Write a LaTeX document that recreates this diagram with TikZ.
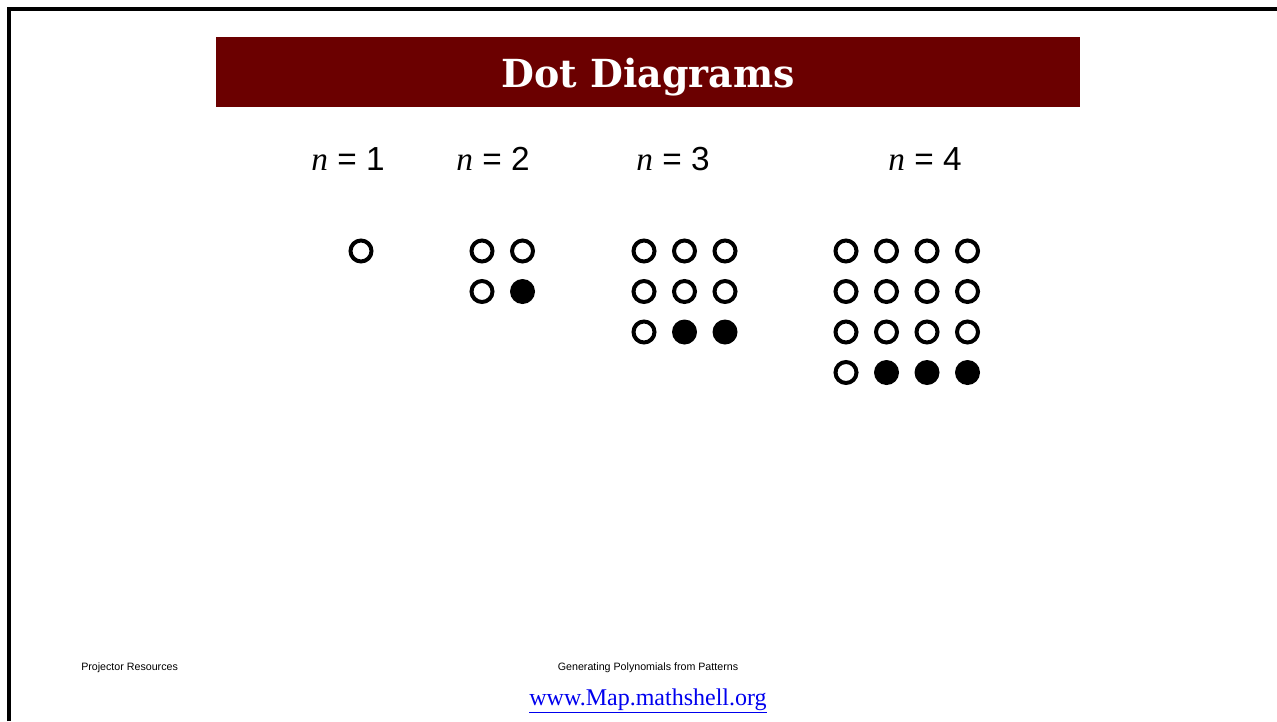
\documentclass[tikz,border=0pt]{standalone}
\usepackage{fontspec}
\setmainfont{Liberation Sans}
\newfontfamily\slabfont{DejaVu Serif}
\newfontfamily\romanfont{Liberation Serif}
\usetikzlibrary{positioning}
\definecolor{banner}{HTML}{6B0000}
\definecolor{link}{HTML}{0000EE}
\tikzset{
  dotopen/.style={circle, draw, line width=3pt, minimum size=15.75pt, inner sep=0pt},
  dotfull/.style={circle, fill, minimum size=18.75pt, inner sep=0pt},
  nlabel/.style={anchor=base, font=\fontsize{25}{30}\selectfont},
  footnote/.style={anchor=base, inner sep=0pt, font=\fontsize{8}{10}\selectfont},
}

\begin{document}
\begin{tikzpicture}[x=0.75pt, y=-0.75pt]
\useasboundingbox (0,0) rectangle (1277,721);
\draw[line width=2.4pt] (9,721) -- (9,9) -- (1277,9);
% title banner
\node[fill=banner, minimum width=648pt, minimum height=52.5pt, inner sep=0pt] (banner) at (648,72) {};
\node[anchor=base, xscale=.98, text=white, font=\slabfont\bfseries\fontsize{29}{34}\selectfont] (title) at (648,87) {Dot Diagrams};
% labels
\node[nlabel] (n1) at (348,170) {{\romanfont\itshape n} = 1};
\node[nlabel] (n2) at (493,170) {{\romanfont\itshape n} = 2};
\node[nlabel] (n3) at (673,170) {{\romanfont\itshape n} = 3};
\node[nlabel] (n4) at (925,170) {{\romanfont\itshape n} = 4};
% dot squares
\foreach \n/\x in {1/361,2/482,3/644,4/846} {
  \foreach \r in {1,...,\n} {
    \foreach \c in {1,...,\n} {
      \pgfmathtruncatemacro\full{(\r==\n)&&(\c>1)}
      \ifnum\full=1 \def\kind{dotfull}\else\def\kind{dotopen}\fi
      \node[\kind] (d\n-\r-\c) at ({\x+40.5*(\c-1)},{251+40.5*(\r-1)}) {};
    }
  }
}
% footer
\node[footnote, anchor=base west] (proj) at (81,670) {Projector Resources};
\node[footnote] (topic) at (648,670) {Generating Polynomials from Patterns};
\node[anchor=base, text=link, font=\romanfont\fontsize{18}{22}\selectfont] (url) at (648,705) {\underline{www.Map.mathshell.org}};
\end{tikzpicture}
\end{document}
